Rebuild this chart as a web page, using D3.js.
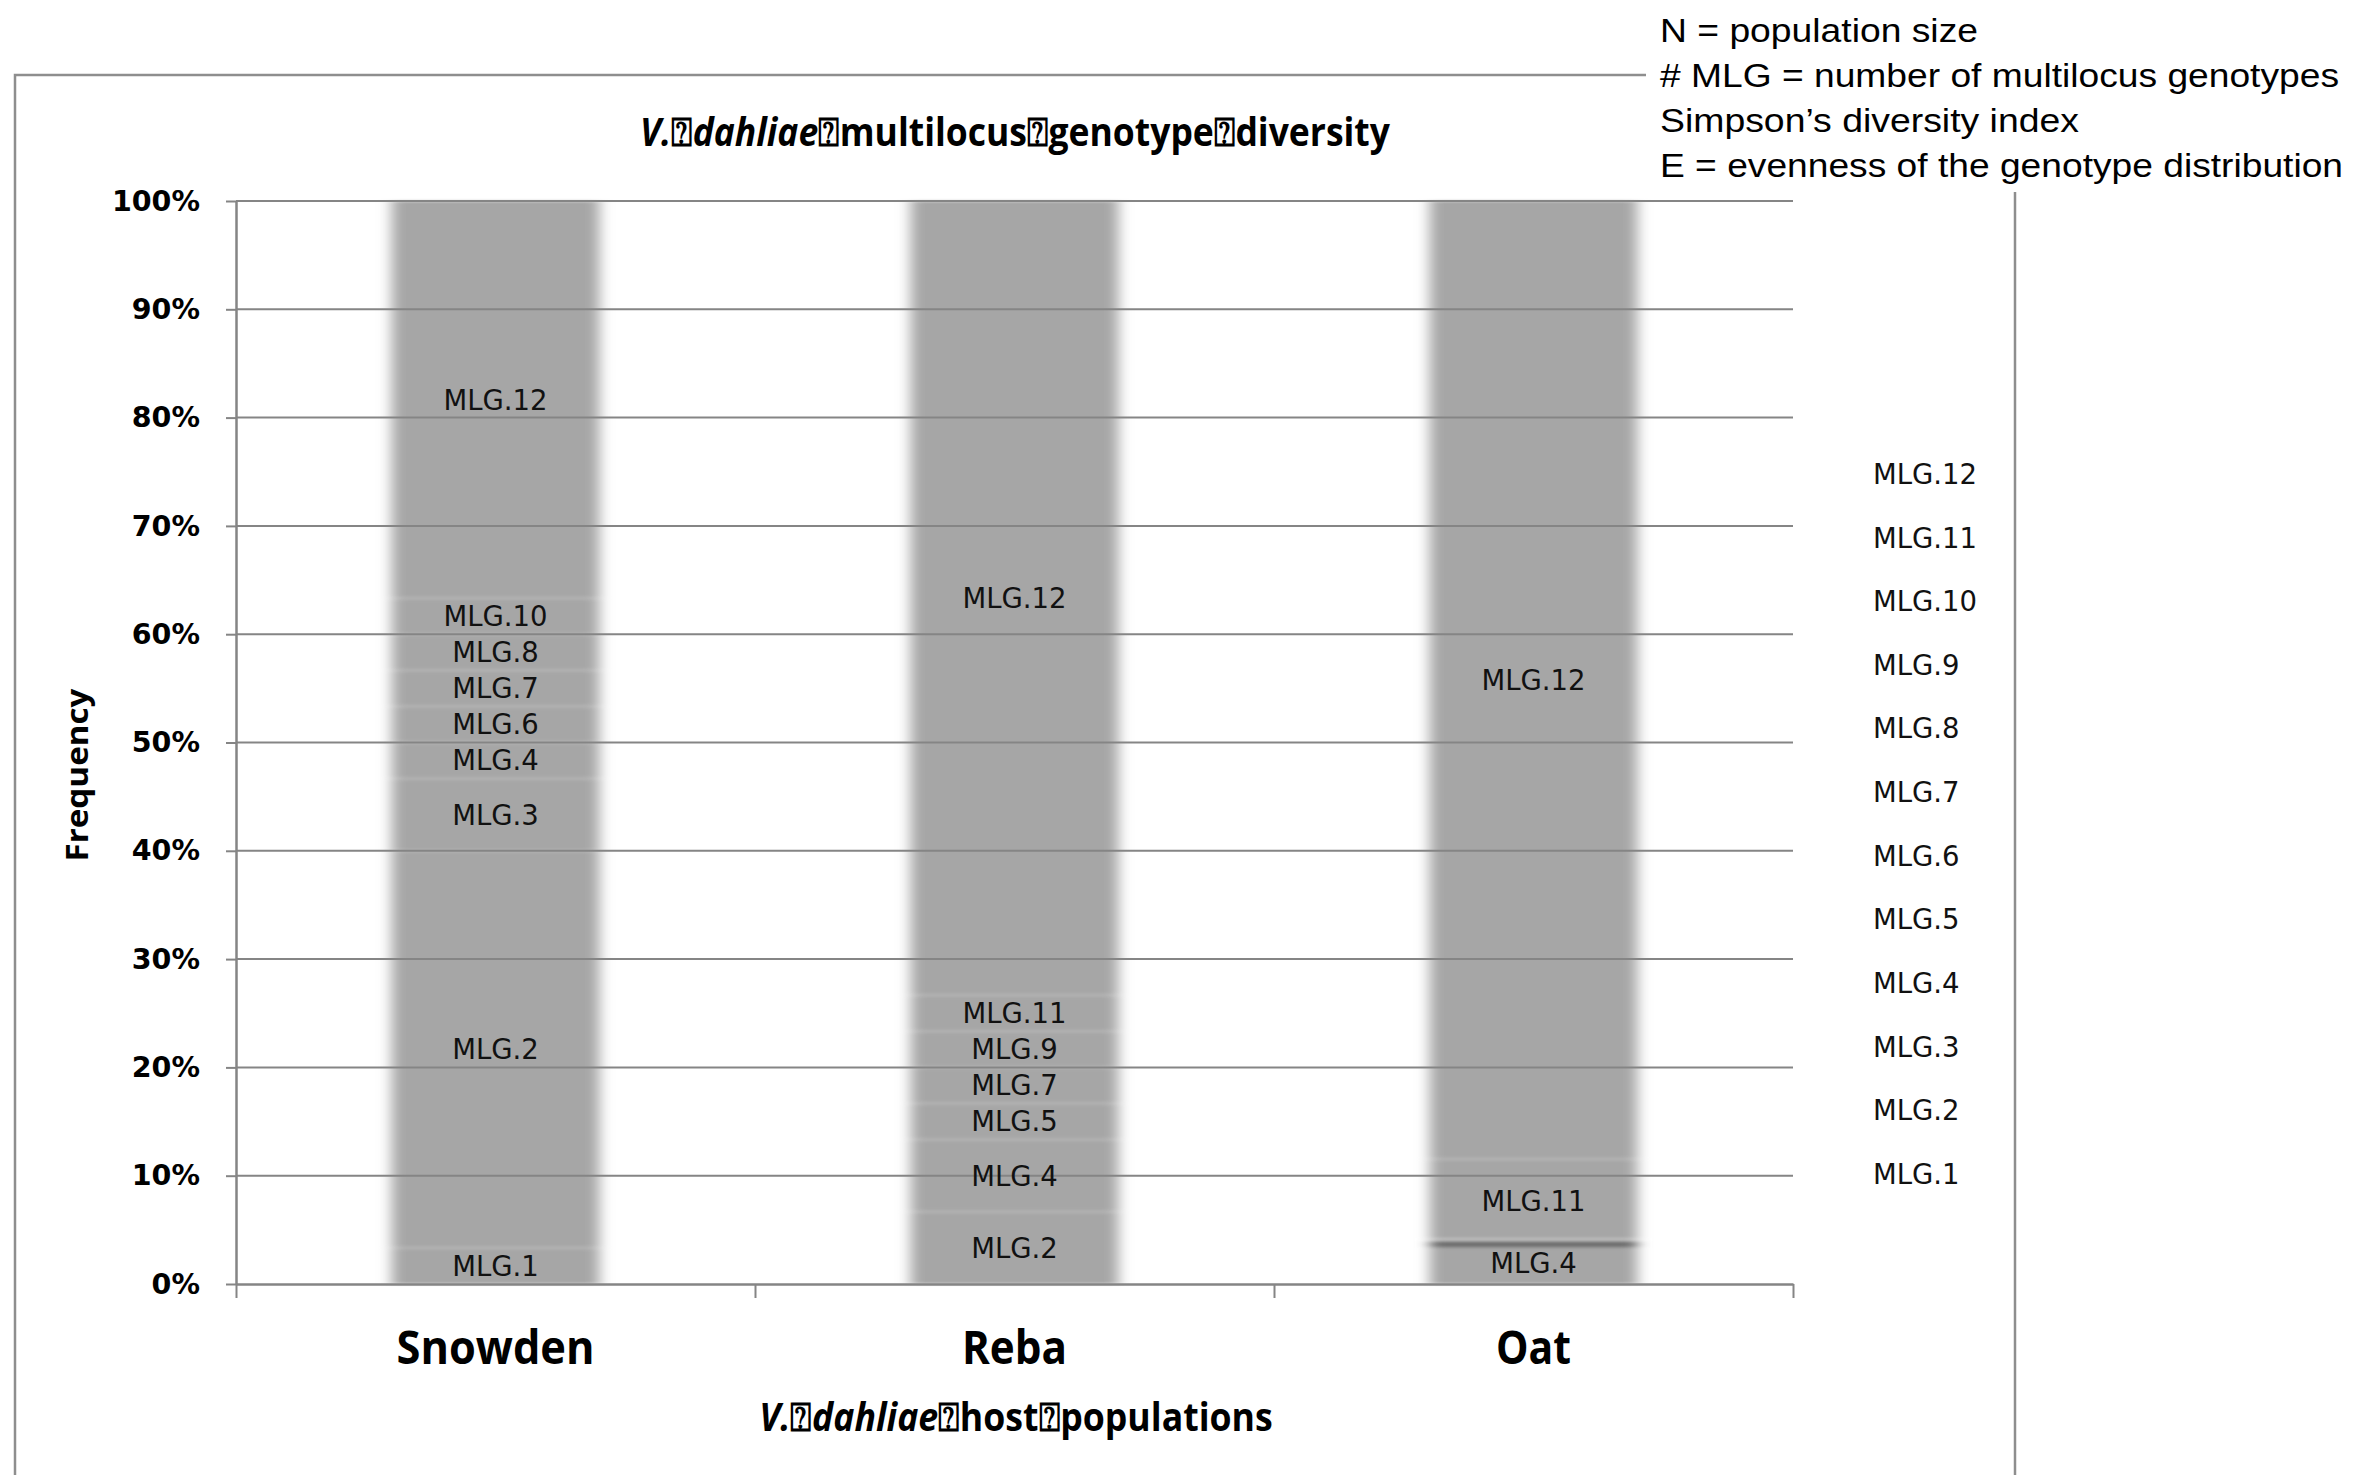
<!DOCTYPE html>
<html>
<head>
<meta charset="utf-8">
<script src="https://cdnjs.cloudflare.com/ajax/libs/d3/7.8.5/d3.min.js"></script>
<style>
  html, body { margin: 0; padding: 0; background: #ffffff; }
  svg { display: block; }
</style>
</head>
<body>
<script>
// Host populations (x categories) and multilocus genotypes (stack keys)
const hosts = ["Snowden", "Reba", "Oat"];
const genotypes = ["MLG.1", "MLG.2", "MLG.3", "MLG.4", "MLG.5", "MLG.6",
                   "MLG.7", "MLG.8", "MLG.9", "MLG.10", "MLG.11", "MLG.12"];

// Genotype frequencies per host, in percent (MLG.1 … MLG.12)
const snowdenFreq = [3.33, 36.67, 6.67, 3.33, 0, 3.33, 3.33, 3.33, 0, 3.33, 0, 36.67];
const rebaFreq    = [0, 6.67, 0, 6.67, 3.33, 0, 3.33, 0, 3.33, 0, 3.33, 73.33];
const oatFreq     = [0, 0, 0, 3.85, 0, 0, 0, 0, 0, 0, 7.69, 88.46];

// Axis tick values
const yTicks = [0, 10, 20, 30, 40, 50, 60, 70, 80, 90, 100];

// Explanatory notes shown at the top right
const notes = [
  "N = population size",
  "# MLG = number of multilocus genotypes",
  "Simpson\u2019s diversity index",
  "E = evenness of the genotype distribution"
];

const W = 2354, H = 1475;
const svg = d3.select("body").append("svg").attr("width", W).attr("height", H);

const freqByHost = { Snowden: snowdenFreq, Reba: rebaFreq, Oat: oatFreq };
const table = hosts.map(h => {
  const row = { host: h };
  genotypes.forEach((g, i) => row[g] = freqByHost[h][i]);
  return row;
});
const series = d3.stack().keys(genotypes)(table);

// Scales
const plot = { left: 236, right: 1793, top: 201, bottom: 1284 };
const x = d3.scaleBand().domain(hosts).range([plot.left, plot.right])
  .paddingInner(0.6).paddingOuter(0.3);
const xEdges = d3.scaleLinear().domain([0, hosts.length]).range([plot.left, plot.right]);
const y = d3.scaleLinear().domain([0, 100]).range([plot.bottom, plot.top]);

// Outer chart frame
const frameColor = "#8e8e8e";
svg.append("path")
  .attr("d", `M1646,75 H15 V1480 M2015,192 V1480`)
  .attr("fill", "none").attr("stroke", frameColor).attr("stroke-width", 2.5);

// Soft-edged bars
const defs = svg.append("defs");
const blur = defs.append("filter").attr("id", "soft")
  .attr("x", "-10%").attr("y", "-10%").attr("width", "120%").attr("height", "120%");
blur.append("feGaussianBlur").attr("stdDeviation", "7 1.5");

const bars = svg.append("g").attr("filter", "url(#soft)");
series.forEach(s => {
  s.forEach((d, i) => {
    if (d[1] - d[0] <= 0) return;
    const host = hosts[i];
    bars.append("rect")
      .attr("x", x(host)).attr("width", x.bandwidth())
      .attr("y", y(d[1])).attr("height", y(d[0]) - y(d[1]))
      .attr("fill", "#a6a6a6");
  });
});
// Segment separators
series.forEach(s => {
  s.forEach((d, i) => {
    if (d[1] - d[0] <= 0 || d[1] >= 99.9) return;
    const host = hosts[i];
    const dark = host === "Oat" && s.key === "MLG.4";
    if (dark) {
      bars.append("rect").attr("x", x(host)).attr("width", x.bandwidth())
        .attr("y", y(d[1]) - 1).attr("height", 6).attr("fill", "#6f6f6f");
      bars.append("rect").attr("x", x(host)).attr("width", x.bandwidth())
        .attr("y", y(d[1]) - 4).attr("height", 2.5).attr("fill", "#c4c4c4");
    } else {
      bars.append("rect").attr("x", x(host)).attr("width", x.bandwidth())
        .attr("y", y(d[1]) - 1.5).attr("height", 3).attr("fill", "#b3b3b3");
    }
  });
});

// Horizontal gridlines drawn over the bars
svg.append("g").selectAll("line").data(yTicks.filter(t => t > 0)).join("line")
  .attr("x1", plot.left).attr("x2", plot.right)
  .attr("y1", d => y(d)).attr("y2", d => y(d))
  .attr("stroke", "#858585").attr("stroke-width", 2);

// Y axis
const yAxis = svg.append("g").attr("transform", `translate(${plot.left},0)`)
  .call(d3.axisLeft(y).tickValues(yTicks).tickFormat(d => d + "%")
    .tickSize(10).tickSizeOuter(0).tickPadding(26));
yAxis.select(".domain").attr("stroke", "#858585").attr("stroke-width", 2.5);
yAxis.selectAll(".tick line").attr("stroke", "#858585").attr("stroke-width", 2);
yAxis.selectAll(".tick text")
  .attr("font-family", "DejaVu Sans").attr("font-weight", "bold")
  .attr("font-size", 28.5).attr("fill", "#000");

// X axis: baseline and category-boundary ticks
const xAxis = svg.append("g").attr("transform", `translate(0,${plot.bottom})`)
  .call(d3.axisBottom(xEdges).tickValues(d3.range(hosts.length + 1))
    .tickFormat("").tickSize(14).tickSizeOuter(0));
xAxis.select(".domain").attr("stroke", "#858585").attr("stroke-width", 2.5);
xAxis.selectAll(".tick line").attr("stroke", "#858585").attr("stroke-width", 2);

// Category labels
const catWidths = { Snowden: 198, Reba: 105, Oat: 75 };
svg.append("g").selectAll("text").data(hosts).join("text")
  .attr("x", d => x(d) + x.bandwidth() / 2).attr("y", 1364)
  .attr("text-anchor", "middle")
  .attr("font-family", "Open Sans").attr("font-weight", "bold").attr("font-size", 46)
  .attr("textLength", d => catWidths[d]).attr("lengthAdjust", "spacingAndGlyphs")
  .text(d => d);

// Segment labels
const labels = svg.append("g");
series.forEach(s => {
  s.forEach((d, i) => {
    if (d[1] - d[0] <= 0) return;
    labels.append("text")
      .attr("x", x(hosts[i]) + x.bandwidth() / 2)
      .attr("y", y((d[0] + d[1]) / 2))
      .attr("dy", "0.36em")
      .attr("text-anchor", "middle")
      .attr("font-family", "DejaVu Sans").attr("font-size", 27.5).attr("fill", "#111")
      .text(s.key);
  });
});

// Legend (genotype names, top to bottom MLG.12 … MLG.1)
const legendY = d3.scalePoint().domain(genotypes.slice().reverse()).range([474, 1174]);
svg.append("g").selectAll("text").data(genotypes.slice().reverse()).join("text")
  .attr("x", 1873).attr("y", d => legendY(d)).attr("dy", "0.36em")
  .attr("font-family", "DejaVu Sans").attr("font-size", 27.5).attr("fill", "#111")
  .text(d => d);

// Mixed italic/upright text, squeezed horizontally to a target width
const box = "\u2370";
function richText(cx, baseline, targetWidth, parts) {
  const g = svg.append("g");
  const t = g.append("text")
    .attr("x", 0).attr("y", 0).attr("text-anchor", "middle")
    .attr("font-family", "Open Sans").attr("font-weight", "bold").attr("font-size", 40);
  parts.forEach(p => {
    t.append("tspan").attr("font-style", p.italic ? "italic" : "normal").text(p.t);
  });
  const natural = t.node().getComputedTextLength();
  g.attr("transform", `translate(${cx},${baseline}) scale(${targetWidth / natural},1)`);
}

// Chart title
richText(1015, 146, 749, [
  { t: "V.", italic: true }, { t: box }, { t: "dahliae", italic: true }, { t: box },
  { t: "multilocus" }, { t: box }, { t: "genotype" }, { t: box }, { t: "diversity" }
]);

// X axis title
richText(1016, 1431, 513, [
  { t: "V.", italic: true }, { t: box }, { t: "dahliae", italic: true }, { t: box },
  { t: "host" }, { t: box }, { t: "populations" }
]);

// Y axis title
svg.append("text")
  .attr("transform", "translate(88,775) rotate(-90)")
  .attr("text-anchor", "middle")
  .attr("font-family", "Open Sans").attr("font-weight", "bold").attr("font-size", 30)
  .attr("textLength", 173).attr("lengthAdjust", "spacingAndGlyphs")
  .text("Frequency");

// Notes block
const noteWidths = [318, 679, 419, 683];
svg.append("g").selectAll("text").data(notes).join("text")
  .attr("x", 1660).attr("y", (d, i) => 42 + i * 45)
  .attr("font-family", "Liberation Sans").attr("font-size", 33).attr("fill", "#000")
  .attr("textLength", (d, i) => noteWidths[i]).attr("lengthAdjust", "spacingAndGlyphs")
  .text(d => d);
</script>
</body>
</html>
